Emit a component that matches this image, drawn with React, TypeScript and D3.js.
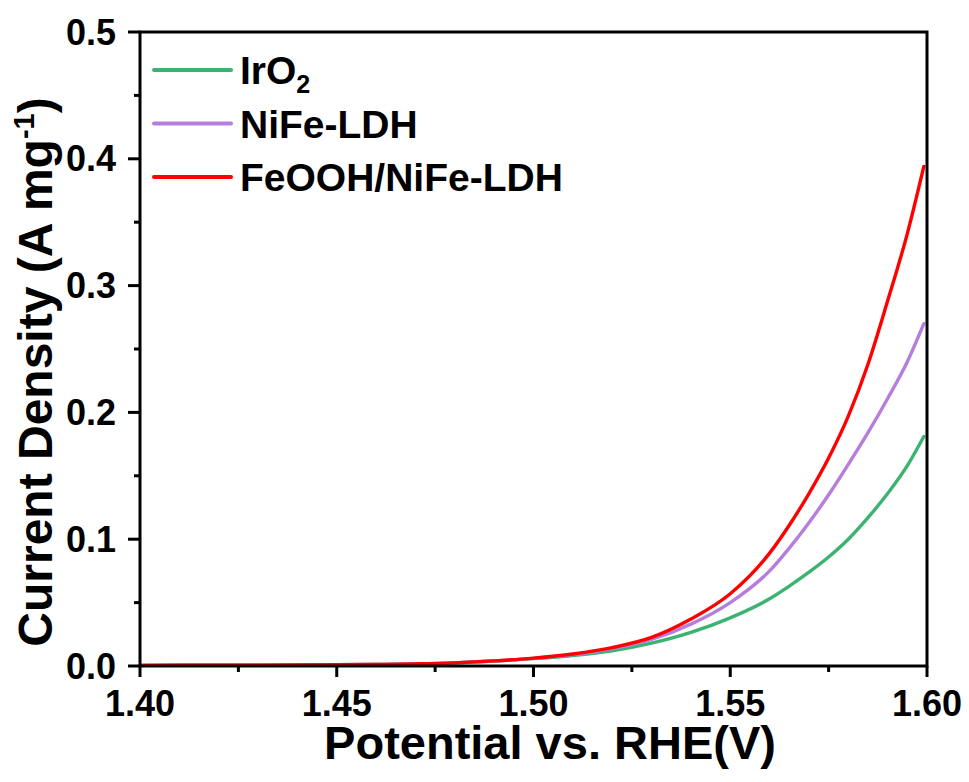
import React from "react";
import * as d3 from "d3";

const potentials = [1.40, 1.42, 1.44, 1.46, 1.47, 1.48, 1.49, 1.50, 1.51, 1.52, 1.53, 1.54, 1.55, 1.56, 1.565, 1.57, 1.575, 1.58, 1.585, 1.59, 1.595, 1.5992];
const irO2 = [0.0005, 0.0006, 0.0008, 0.0012, 0.0017, 0.0025, 0.0039, 0.0058, 0.0083, 0.0120, 0.0180, 0.0265, 0.038, 0.053, 0.063, 0.074, 0.086, 0.100, 0.117, 0.136, 0.158, 0.181];
const nife = [0.0005, 0.0006, 0.0008, 0.0012, 0.0017, 0.0025, 0.0040, 0.0060, 0.0090, 0.0138, 0.021, 0.033, 0.050, 0.075, 0.093, 0.113, 0.135, 0.159, 0.184, 0.211, 0.240, 0.270];
const feooh = [0.0005, 0.0006, 0.0008, 0.0012, 0.0017, 0.0025, 0.0040, 0.0062, 0.0095, 0.0145, 0.0225, 0.037, 0.057, 0.089, 0.111, 0.136, 0.164, 0.197, 0.238, 0.288, 0.341, 0.394];

const xTicks = [1.40, 1.45, 1.50, 1.55, 1.60];
const xMinor = [1.425, 1.475, 1.525, 1.575];
const yTicks = [0.0, 0.1, 0.2, 0.3, 0.4, 0.5];
const yMinor = [0.05, 0.15, 0.25, 0.35, 0.45];

const seriesNames = ["IrO2", "NiFe-LDH", "FeOOH/NiFe-LDH"];
const seriesColors = ["#3cb371", "#b57edc", "#ff0000"];
const seriesData = [irO2, nife, feooh];

const W = 969, H = 782;
const L = 140, R = 927, T = 32, B = 666;
const FONT = "'Liberation Sans', Arial, sans-serif";

export default function App() {
  const x = d3.scaleLinear().domain([1.40, 1.60]).range([L, R]);
  const y = d3.scaleLinear().domain([0, 0.5]).range([B, T]);
  const line = d3.line<number>()
    .x((_, i) => x(potentials[i]))
    .y((d) => y(d))
    .curve(d3.curveMonotoneX);

  return (
    <svg width={W} height={H} style={{ position: "absolute", left: 0, top: 0, background: "#fff" }} fontFamily={FONT} fontWeight="bold">
      <rect x={0} y={0} width={W} height={H} fill="#fff" />
      {seriesData.map((s, i) => (
        <path key={i} d={line(s) || ""} fill="none" stroke={seriesColors[i]} strokeWidth={3.4} strokeLinecap="round" strokeLinejoin="round" />
      ))}
      {/* frame */}
      <rect x={L} y={T} width={R - L} height={B - T} fill="none" stroke="#000" strokeWidth={3} />
      {/* x ticks */}
      {xTicks.map((t) => (
        <g key={t}>
          <line x1={x(t)} x2={x(t)} y1={B} y2={B + 11} stroke="#000" strokeWidth={3} />
          <text x={x(t)} y={716} textAnchor="middle" fontSize={36}>{t.toFixed(2)}</text>
        </g>
      ))}
      {xMinor.map((t) => (
        <line key={t} x1={x(t)} x2={x(t)} y1={B} y2={B + 6} stroke="#000" strokeWidth={3} />
      ))}
      {/* y ticks */}
      {yTicks.map((t) => (
        <g key={t}>
          <line x1={L} x2={L - 12} y1={y(t)} y2={y(t)} stroke="#000" strokeWidth={3} />
          <text x={116} y={y(t) + 12.5} textAnchor="end" fontSize={36}>{t.toFixed(1)}</text>
        </g>
      ))}
      {yMinor.map((t) => (
        <line key={t} x1={L} x2={L - 6} y1={y(t)} y2={y(t)} stroke="#000" strokeWidth={3} />
      ))}
      {/* axis titles */}
      <text x={550} y={759} textAnchor="middle" fontSize={47}>Potential vs. RHE(V)</text>
      <text transform={`translate(52, ${372}) rotate(-90)`} textAnchor="middle" fontSize={48}>
        Current Density (A mg<tspan dy={-18} fontSize={29}>-1</tspan><tspan dy={18}>)</tspan>
      </text>
      {/* legend */}
      {seriesNames.map((n, i) => {
        const ly = 70 + i * 53.5;
        return (
          <g key={n}>
            <line x1={154} x2={231} y1={ly} y2={ly} stroke={seriesColors[i]} strokeWidth={4} strokeLinecap="round" />
            <text x={240} y={ly + 14} fontSize={39}>
              {n === "IrO2" ? (<>IrO<tspan dy={9} fontSize={25}>2</tspan></>) : n}
            </text>
          </g>
        );
      })}
    </svg>
  );
}
